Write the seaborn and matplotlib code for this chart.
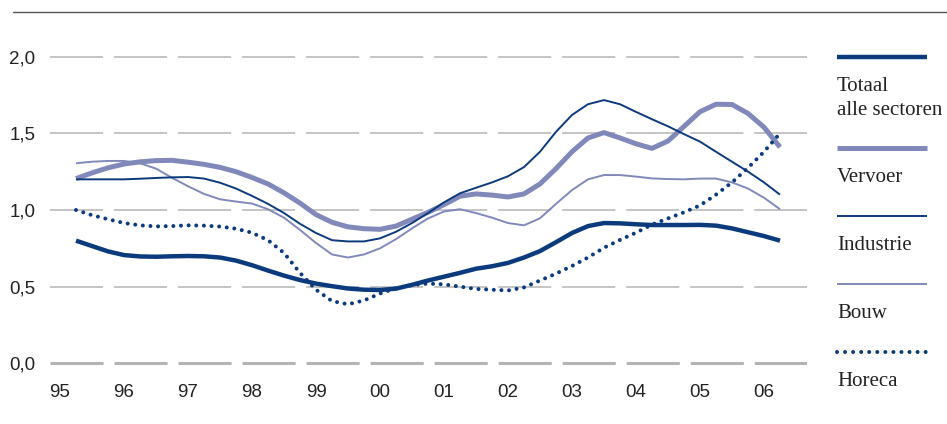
import numpy as np
import pandas as pd
import seaborn as sns
import matplotlib
matplotlib.use("Agg")
import matplotlib.pyplot as plt
from matplotlib.lines import Line2D

# Quarterly observations, 1995 Q2 .. 2006 Q2
periods = np.arange(1995.25, 2006.26, 0.25)

totaal = [0.80, 0.765, 0.73, 0.706, 0.697, 0.695, 0.698, 0.70, 0.698, 0.69,
          0.67, 0.64, 0.605, 0.572, 0.543, 0.52, 0.503, 0.488, 0.48, 0.478,
          0.487, 0.512, 0.54, 0.565, 0.59, 0.617, 0.633, 0.655, 0.69, 0.732,
          0.79, 0.85, 0.895, 0.915, 0.913, 0.907, 0.902, 0.902, 0.902, 0.903,
          0.898, 0.88, 0.855, 0.83, 0.80]
vervoer = [1.205, 1.242, 1.275, 1.30, 1.314, 1.322, 1.324, 1.312, 1.298, 1.278,
           1.25, 1.212, 1.17, 1.112, 1.045, 0.97, 0.92, 0.89, 0.878, 0.874,
           0.895, 0.94, 0.985, 1.035, 1.09, 1.105, 1.097, 1.085, 1.105, 1.17,
           1.27, 1.38, 1.47, 1.505, 1.47, 1.432, 1.402, 1.45, 1.545, 1.641,
           1.69, 1.688, 1.63, 1.54, 1.41]
industrie = [1.20, 1.20, 1.20, 1.20, 1.204, 1.209, 1.213, 1.215, 1.205, 1.178,
             1.14, 1.092, 1.04, 0.98, 0.91, 0.85, 0.803, 0.795, 0.795, 0.815,
             0.858, 0.915, 0.98, 1.05, 1.109, 1.145, 1.18, 1.22, 1.28, 1.38,
             1.51, 1.62, 1.69, 1.717, 1.69, 1.64, 1.592, 1.546, 1.495, 1.446,
             1.38, 1.315, 1.25, 1.18, 1.10]
bouw = [1.305, 1.315, 1.32, 1.32, 1.305, 1.27, 1.21, 1.155, 1.105, 1.07,
        1.055, 1.042, 1.005, 0.95, 0.87, 0.785, 0.71, 0.69, 0.71, 0.75,
        0.81, 0.88, 0.945, 0.99, 1.005, 0.98, 0.95, 0.915, 0.90, 0.946,
        1.04, 1.13, 1.2, 1.228, 1.228, 1.218, 1.206, 1.202, 1.20, 1.205,
        1.205, 1.18, 1.14, 1.08, 1.005]
horeca = [1.0, 0.966, 0.94, 0.915, 0.90, 0.893, 0.895, 0.90, 0.898, 0.892,
          0.878, 0.852, 0.803, 0.72, 0.59, 0.48, 0.406, 0.385, 0.41, 0.455,
          0.49, 0.51, 0.52, 0.515, 0.50, 0.485, 0.48, 0.475, 0.495, 0.54,
          0.585, 0.635, 0.69, 0.754, 0.805, 0.852, 0.905, 0.945, 0.985, 1.03,
          1.10, 1.18, 1.275, 1.38, 1.50]

year_ticks = list(range(1995, 2007))
year_labels = ["95", "96", "97", "98", "99", "00", "01", "02", "03", "04", "05", "06"]
value_ticks = [0.0, 0.5, 1.0, 1.5, 2.0]
value_labels = ["0,0", "0,5", "1,0", "1,5", "2,0"]

NAVY = "#0b3b7c"
LIGHT = "#8189bb"
GRID = "#b4b4b4"

series = [
    # label, values, colour, width (pt), dotted
    ("Vervoer", vervoer, LIGHT, 3.6, False),
    ("Bouw", bouw, LIGHT, 1.4, False),
    ("Industrie", industrie, NAVY, 1.4, False),
    ("Totaal alle sectoren", totaal, NAVY, 3.2, False),
    ("Horeca", horeca, NAVY, 2.9, True),
]

frames = [pd.DataFrame({"jaar": periods, "waarde": vals, "sector": name})
          for name, vals, *_ in series]
data = pd.concat(frames, ignore_index=True)

sns.set_style("white")
plt.rcParams["font.family"] = ["Liberation Sans", "DejaVu Sans"]
plt.rcParams["lines.scale_dashes"] = False

W, H = 947, 424
fig = plt.figure(figsize=(W / 100, H / 100), dpi=100)


def fx(px):
    return px / W


def fy(py):
    return 1 - py / H


ax = fig.add_axes([fx(50), fy(370), fx(807) - fx(50), fy(40) - fy(370)])

# dashed horizontal reference lines
for v in value_ticks:
    ax.axhline(v, color=GRID, lw=2.2 if v == 0 else 1.1,
               linestyle=(0, (38.2, 7.9)), zorder=0)

for name, vals, col, lw, dotted in series:
    sub = data[data["sector"] == name]
    sns.lineplot(data=sub, x="jaar", y="waarde", ax=ax, color=col, lw=lw,
                 estimator=None, sort=False, legend=False,
                 solid_capstyle="butt", solid_joinstyle="round")
    line = ax.lines[-1]
    if dotted:
        line.set_linestyle((0, (0.001, 5.5)))
        line.set_dash_capstyle("round")

ax.set_xlim(1995 + (50 - 60) / 64, 1995 + (807 - 60) / 64)
ax.set_ylim((363.3 - 370) / 153.3, (363.3 - 40) / 153.3)
ax.set_xticks(year_ticks)
ax.set_xticklabels(year_labels)
ax.set_yticks(value_ticks)
ax.set_yticklabels(value_labels)
ax.tick_params(axis="both", length=0, labelsize=13.5, colors="#222222")
ax.tick_params(axis="y", pad=10.5)
ax.tick_params(axis="x", pad=10)
ax.set_xlabel("")
ax.set_ylabel("")
for s in ax.spines.values():
    s.set_visible(False)

# rule along the top
fig.add_artist(Line2D([fx(13), 1.0], [fy(12), fy(12)], color="#555555", lw=1.0))

# legend on the right
legend_items = [
    (57, NAVY, 3.2, False, [("Totaal", 91), ("alle sectoren", 115)]),
    (148, LIGHT, 3.6, False, [("Vervoer", 182)]),
    (216, NAVY, 1.4, False, [("Industrie", 250)]),
    (284, LIGHT, 1.4, False, [("Bouw", 318)]),
    (352, NAVY, 2.9, True, [("Horeca", 386)]),
]
for ly, col, lw, dotted, texts in legend_items:
    ln = Line2D([fx(837), fx(927)], [fy(ly), fy(ly)], color=col, lw=lw,
                solid_capstyle="butt")
    if dotted:
        ln.set_linestyle((0, (0.001, 5.8)))
        ln.set_dash_capstyle("round")
    fig.add_artist(ln)
    for txt, by in texts:
        fig.text(fx(837), fy(by), txt, family=["Liberation Serif", "DejaVu Serif"],
                 fontsize=15, color="#222222", va="baseline", ha="left")

fig.savefig("out.png", dpi=100, facecolor="white")
